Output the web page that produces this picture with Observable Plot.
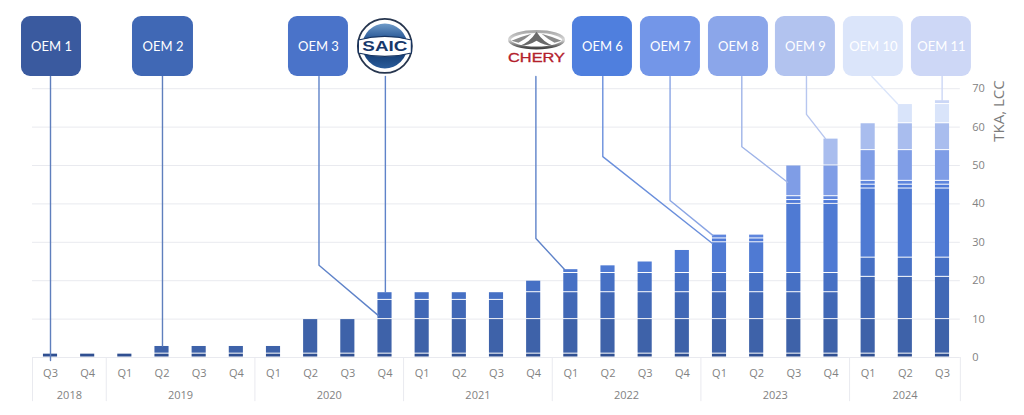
<!DOCTYPE html>
<html>
<head>
<meta charset="utf-8">
<script src="https://cdn.jsdelivr.net/npm/d3@7"></script>
<script src="https://cdn.jsdelivr.net/npm/@observablehq/plot@0.6"></script>
<style>
html,body{margin:0;padding:0;background:#fff}
svg{display:block}
</style>
</head>
<body>
<div id="chart"></div>
<script>
const quarters = ["Q3","Q4","Q1","Q2","Q3","Q4","Q1","Q2","Q3","Q4","Q1","Q2","Q3","Q4","Q1","Q2","Q3","Q4","Q1","Q2","Q3","Q4","Q1","Q2","Q3"];
const years = ["2018","2019","2020","2021","2022","2023","2024"];
const yearEdges = [-0.484,1.5,5.5,9.5,13.5,17.5,21.5,24.48];
const yTicks = [0,10,20,30,40,50,60,70];

const oem1  = [1,1,1,1,1,1,1,1,1,1,1,1,1,1,1,1,1,1,1,1,1,1,1,1,1];
const oem2  = [0,0,0,2,2,2,2,9,9,9,9,9,9,9,9,9,9,9,9,9,9,9,9,9,9];
const oem3  = [0,0,0,0,0,0,0,0,0,5,5,5,5,7,7,7,7,7,7,7,7,7,11,11,11];
const saic  = [0,0,0,0,0,0,0,0,0,2,2,2,2,3,5,5,5,5,5,5,5,5,5,5,5];
const chery = [0,0,0,0,0,0,0,0,0,0,0,0,0,0,1,2,3,6,8,8,18,18,18,18,18];
const oem6  = [0,0,0,0,0,0,0,0,0,0,0,0,0,0,0,0,0,0,1,1,1,1,1,1,1];
const oem7  = [0,0,0,0,0,0,0,0,0,0,0,0,0,0,0,0,0,0,1,1,1,1,1,1,1];
const oem8  = [0,0,0,0,0,0,0,0,0,0,0,0,0,0,0,0,0,0,0,0,8,8,8,8,8];
const oem9  = [0,0,0,0,0,0,0,0,0,0,0,0,0,0,0,0,0,0,0,0,0,7,7,7,7];
const oem10 = [0,0,0,0,0,0,0,0,0,0,0,0,0,0,0,0,0,0,0,0,0,0,0,5,5];
const oem11 = [0,0,0,0,0,0,0,0,0,0,0,0,0,0,0,0,0,0,0,0,0,0,0,0,1];

const seriesList = [
  {values: oem1,  color: "#2f4f91"},
  {values: oem2,  color: "#3e62a9"},
  {values: oem3,  color: "#4168b6"},
  {values: saic,  color: "#4670c4"},
  {values: chery, color: "#4f7ad3"},
  {values: oem6,  color: "#4f7ad8"},
  {values: oem7,  color: "#5f86dd"},
  {values: oem8,  color: "#7f9de6"},
  {values: oem9,  color: "#a9bdee"},
  {values: oem10, color: "#d9e4fa"},
  {values: oem11, color: "#cbd7f6"}
];
const table = seriesList.flatMap((s, k) => s.values.map((v, i) => ({i, v, k, color: s.color}))).filter(d => d.v > 0);

// Callout boxes, in quarter-index / value units
const boxNames  = ["OEM 1","OEM 2","OEM 3","OEM 6","OEM 7","OEM 8","OEM 9","OEM 10","OEM 11"];
const boxLeft   = [-0.78,2.206,6.403,14.044,15.873,17.703,19.505,21.334,23.164];
const boxRight  = [0.834,3.847,8.017,15.658,17.487,19.317,21.119,22.948,24.778];
const boxColors = ["#3a5a9f","#4068b5","#4a73c9","#4f7fde","#7396e8","#8ba6ea","#b2c3ef","#dbe5fa","#cdd7f6"];
const boxBottom = 73.2, boxTop = 88.8;
const boxes = boxNames.map((name, j) => ({name, x1: boxLeft[j], x2: boxRight[j], color: boxColors[j]}));

// Leader lines: [quarter index, value] vertices
const leaders = [
  {color:"#5f7fbd", pts:[[0,73.2],[0,-0.8]]},
  {color:"#5f7fbd", pts:[[3.013,73.2],[3.013,3]]},
  {color:"#5f83c9", pts:[[7.224,73.2],[7.224,24],[8.824,10.9]]},
  {color:"#5f83c9", pts:[[9.01,73.2],[9.01,17]]},
  {color:"#5f83c9", pts:[[13.06,73.2],[13.06,31],[13.83,22.9]]},
  {color:"#6a8fdc", pts:[[14.86,73.2],[14.86,52.3],[17.81,29.7]]},
  {color:"#8aa5e4", pts:[[16.67,73.2],[16.67,40.9],[17.82,31.8]]},
  {color:"#9fb4e8", pts:[[18.6,73.2],[18.6,54.9],[19.83,45.65]]},
  {color:"#b7c6ef", pts:[[20.34,73.2],[20.34,63.3],[20.85,57]]},
  {color:"#dbe5fa", pts:[[22.1,73.2],[22.79,66.1]]},
  {color:"#cdd7f6", pts:[[23.99,73.2],[23.99,66.9]]}
];
const leaderRows = leaders.flatMap((l, id) => l.pts.map(([x, y]) => ({id, x, y, color: l.color})));

const saicAt = {x: 9.01, y: 81};
const cheryAt = {x: 13.09, y: 82.6};

const font = "'Open Sans', sans-serif";

function saicLogo(index, {x, y}) {
  const g = d3.create("svg:g").attr("transform", `translate(${x(saicAt.x)},${y(saicAt.y)})`);
  const defs = g.append("defs");
  const lg = defs.append("linearGradient").attr("id","saicBlue").attr("x1",0).attr("y1",0).attr("x2",0).attr("y2",1);
  lg.append("stop").attr("offset","0").attr("stop-color","#6f9bc9");
  lg.append("stop").attr("offset","0.38").attr("stop-color","#1f4f8f");
  lg.append("stop").attr("offset","0.62").attr("stop-color","#123a70");
  lg.append("stop").attr("offset","1").attr("stop-color","#2a5c9a");
  g.append("circle").attr("r",27).attr("fill","#fff").attr("stroke","#27364f").attr("stroke-width",1.8);
  g.append("circle").attr("r",22.5).attr("fill","url(#saicBlue)");
  g.append("path").attr("d","M-26.5,-6 Q0,-13 26.5,-6 L26.5,7 Q0,14 -26.5,7 Z").attr("fill","#fff").attr("stroke","#16335f").attr("stroke-width",1.2);
  g.append("text").attr("text-anchor","middle").attr("y",5.5).attr("font-family","'Liberation Sans',sans-serif")
    .attr("font-weight",700).attr("font-size",15.5).attr("fill","#17386b").attr("textLength",45).attr("lengthAdjust","spacingAndGlyphs").text("SAIC");
  return g.node();
}
function cheryLogo(index, {x, y}) {
  const g = d3.create("svg:g").attr("transform", `translate(${x(cheryAt.x)},${y(cheryAt.y)})`);
  const defs = g.append("defs");
  const lg = defs.append("linearGradient").attr("id","cherySilver").attr("x1",0).attr("y1",0).attr("x2",0).attr("y2",1);
  lg.append("stop").attr("offset","0").attr("stop-color","#a9a9a9");
  lg.append("stop").attr("offset","0.5").attr("stop-color","#d8d8d8");
  lg.append("stop").attr("offset","1").attr("stop-color","#444444");
  g.append("ellipse").attr("rx",27).attr("ry",8.2).attr("fill","#fff").attr("stroke","url(#cherySilver)").attr("stroke-width",3);
  g.append("path").attr("d","M-17,6 Q-7,3 0,-8 Q7,3 17,6 Q8,6 0,1 Q-8,6 -17,6 Z").attr("fill","#6a6a6a");
  g.append("path").attr("d","M-25,1 Q-16,-3 -5,-6 Q-12,0 -18,3 Z M25,1 Q16,-3 5,-6 Q12,0 18,3 Z").attr("fill","#8b8b8b");
  g.append("text").attr("text-anchor","middle").attr("y",22).attr("font-family","'Liberation Sans',sans-serif")
    .attr("font-weight",400).attr("stroke","#b3202c").attr("stroke-width",0.3).attr("font-size",12).attr("fill","#b3202c").attr("textLength",57).attr("lengthAdjust","spacingAndGlyphs").text("CHERY");
  return g.node();
}

const barHalf = 0.19;
const gray = "#828282";
const gridColor = "#e9eaef";

const chart = Plot.plot({
  width: 1024, height: 415,
  marginLeft: 0, marginRight: 0, marginTop: 0, marginBottom: 0,
  style: {background: "#fff", fontFamily: font},
  x: {type: "linear", domain: [0, 24], range: [50, 942], axis: null},
  y: {type: "linear", domain: [0, 70], range: [357, 88.2], axis: null},
  color: {type: "identity"},
  marks: [
    Plot.ruleY(yTicks, {y: d => d, x1: yearEdges[0], x2: yearEdges[7], stroke: gridColor, strokeWidth: 1}),
    Plot.rect(table, Plot.stackY({
      x: "i", y: "v", order: null, z: "k",
      x1: d => d.i - barHalf, x2: d => d.i + barHalf,
      fill: "color", insetTop: 0.5, insetBottom: 0.5
    })),
    Plot.line(leaderRows, {x: "x", y: "y", z: "id", stroke: "color", strokeWidth: 1.4, curve: "linear"}),
    Plot.rect(boxes, {x1: "x1", x2: "x2", y1: boxBottom, y2: boxTop, fill: "color", rx: 9}),
    Plot.text(boxes, {x: d => (d.x1 + d.x2) / 2, y: (boxBottom + boxTop) / 2, text: "name", fill: "#fff",
      fontFamily: "Lato, sans-serif", fontSize: 13}),
    saicLogo,
    cheryLogo,
    Plot.ruleX(yearEdges, {x: d => d, y1: 0, y2: -11.5, stroke: gridColor, strokeWidth: 1}),
    Plot.text(quarters, {x: (d, i) => i, y: 0, dy: 15.5, text: d => d, fill: gray, fontSize: 11, fontFamily: font}),
    Plot.text(years, {x: (d, j) => (yearEdges[j] + yearEdges[j + 1]) / 2, y: 0, dy: 38, text: d => d, fill: gray, fontSize: 11, fontFamily: font}),
    Plot.text(yTicks, {x: 24.8, y: d => d, text: d => String(d), fill: gray, textAnchor: "start", fontSize: 11, fontFamily: font}),
    Plot.text(["TKA, LCC"], {x: 25.53, y: 64.2, text: d => d, rotate: -90, fill: "#7c7c7c", fontSize: 15, fontFamily: font})
  ]
});
document.getElementById("chart").appendChild(chart);
</script>
</body>
</html>
